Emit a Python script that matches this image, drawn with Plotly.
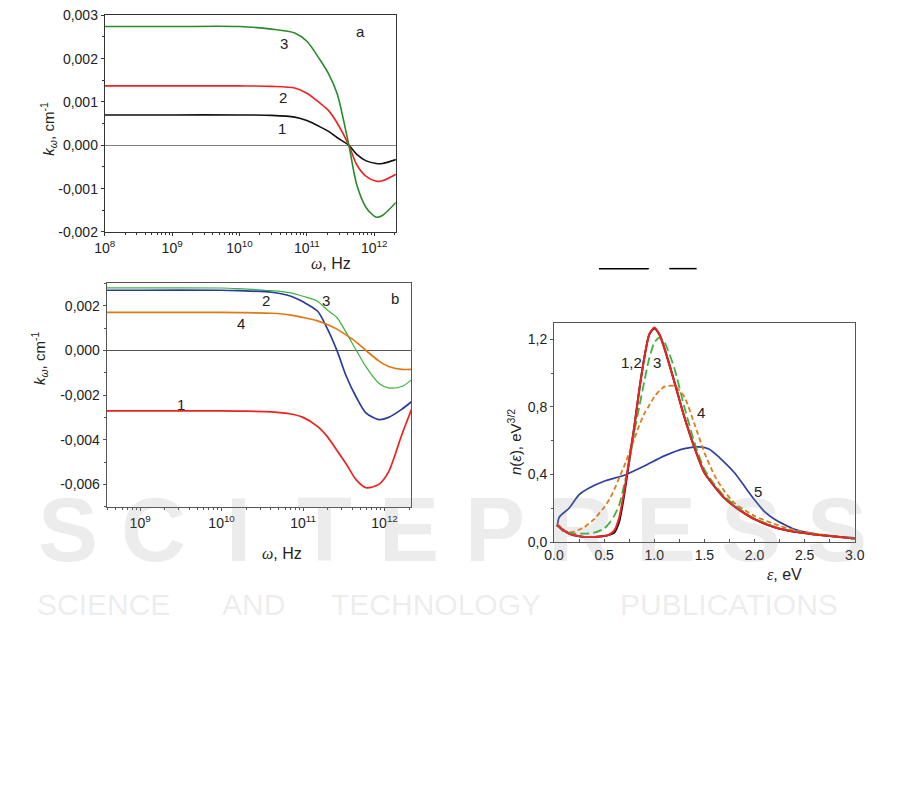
import plotly.graph_objects as go

W, H = 901, 793

# ---------------- Panel a data ----------------
omega_a = [1e8, 1e9, 1e10, 3.0e10, 6.6e10, 1.0e11, 1.6e11, 2.1e11, 2.8e11,
           4.2e11, 5.5e11, 7.6e11, 1.07e12, 1.32e12, 2.1e12]
k_a1 = [0.00070, 0.00070, 0.00070, 0.00069, 0.00065, 0.00057, 0.00042, 0.00032,
        0.00018, 0.0, -0.00021, -0.00036, -0.00042, -0.00042, -0.00033]
k_a2 = [0.00137, 0.00137, 0.00137, 0.00136, 0.00132, 0.00120, 0.00096, 0.00080,
        0.00052, 0.0, -0.00045, -0.00072, -0.00083, -0.00082, -0.00067]
k_a3 = [0.00274, 0.00274, 0.00274, 0.00268, 0.00259, 0.00240, 0.00195, 0.00165,
        0.00120, 0.0, -0.00091, -0.00144, -0.00166, -0.00162, -0.00132]
a_ytick_vals = [-0.002, -0.001, 0.0, 0.001, 0.002, 0.003]
a_ytick_text = ["-0,002", "-0,001", "0,000", "0,001", "0,002", "0,003"]
a_xtick_vals = [1e8, 1e9, 1e10, 1e11, 1e12]
a_xtick_text = ["10<sup>8</sup>", "10<sup>9</sup>", "10<sup>10</sup>",
                "10<sup>11</sup>", "10<sup>12</sup>"]

# ---------------- Panel b data ----------------
omega_b = [3.9e8, 1e9, 1e10, 1.6e10, 4.1e10, 7.1e10, 1.0e11, 1.5e11, 1.95e11,
           2.6e11, 3.4e11, 4.5e11, 5.9e11, 8.5e11, 1.12e12, 1.62e12, 2.14e12]
k_b1 = [-0.00271, -0.00271, -0.00271, -0.00272, -0.00275, -0.00285, -0.00300,
        -0.00340, -0.00383, -0.00447, -0.00510, -0.00580, -0.00615, -0.00600,
        -0.00544, -0.00380, -0.00265]
k_b2 = [0.00269, 0.00269, 0.00269, 0.00267, 0.00260, 0.00242, 0.00217, 0.00176,
        0.00103, 0.0, -0.00117, -0.00210, -0.00280, -0.00310, -0.00300,
        -0.00264, -0.00230]
k_b3 = [0.00280, 0.00280, 0.00279, 0.00276, 0.00267, 0.00257, 0.00242, 0.00220,
        0.00183, 0.00147, 0.00078, 0.0, -0.00073, -0.00147, -0.00168,
        -0.00162, -0.00132]
k_b4 = [0.00170, 0.00170, 0.00170, 0.00169, 0.00166, 0.00158, 0.00147, 0.00132,
        0.00117, 0.00095, 0.00068, 0.00037, 0.0, -0.00047, -0.00072,
        -0.00085, -0.00085]
b_ytick_vals = [-0.006, -0.004, -0.002, 0.0, 0.002]
b_ytick_text = ["-0,006", "-0,004", "-0,002", "0,000", "0,002"]
b_xtick_vals = [1e9, 1e10, 1e11, 1e12]
b_xtick_text = ["10<sup>9</sup>", "10<sup>10</sup>", "10<sup>11</sup>", "10<sup>12</sup>"]

# ---------------- Panel c data ----------------
eps = [0.03, 0.1, 0.15, 0.2, 0.3, 0.4, 0.5, 0.55, 0.6, 0.65, 0.7, 0.75, 0.8,
       0.85, 0.9, 0.95, 1.0, 1.05, 1.1, 1.2, 1.3, 1.4, 1.5, 1.6, 1.7, 1.8,
       1.9, 2.0, 2.2, 2.4, 2.6, 2.8, 3.0]
n_c1 = [0.10, 0.067, 0.05, 0.04, 0.03, 0.03, 0.035, 0.042, 0.055, 0.12, 0.28,
        0.48, 0.68, 0.90, 1.09, 1.23, 1.265, 1.23, 1.15, 0.95, 0.74, 0.56, 0.41,
        0.33, 0.26, 0.21, 0.17, 0.135, 0.087, 0.06, 0.045, 0.032, 0.02]
n_c2 = [0.10, 0.067, 0.05, 0.04, 0.03, 0.03, 0.035, 0.044, 0.067, 0.145, 0.30,
        0.49, 0.68, 0.90, 1.09, 1.23, 1.27, 1.23, 1.15, 0.95, 0.74, 0.56, 0.41,
        0.33, 0.26, 0.21, 0.17, 0.135, 0.087, 0.06, 0.045, 0.032, 0.02]
n_c3 = [0.10, 0.06, 0.055, 0.05, 0.05, 0.055, 0.08, 0.11, 0.155, 0.22, 0.34,
        0.47, 0.65, 0.80, 0.95, 1.09, 1.18, 1.21, 1.185, 1.03, 0.80, 0.59, 0.43,
        0.34, 0.27, 0.22, 0.175, 0.14, 0.09, 0.062, 0.046, 0.033, 0.02]
n_c4 = [0.11, 0.07, 0.058, 0.062, 0.087, 0.135, 0.206, 0.25, 0.31, 0.38, 0.45,
        0.53, 0.61, 0.69, 0.76, 0.81, 0.86, 0.895, 0.92, 0.925, 0.86, 0.70, 0.53,
        0.395, 0.30, 0.23, 0.19, 0.154, 0.106, 0.07, 0.05, 0.035, 0.02]
eps5 = [0.03, 0.05, 0.08, 0.15, 0.25, 0.35, 0.5, 0.7, 0.9, 1.1, 1.3, 1.45,
        1.55, 1.65, 1.8, 1.9, 2.0, 2.1, 2.2, 2.4, 2.6, 2.8, 3.0]
n_c5 = [0.09, 0.145, 0.165, 0.20, 0.28, 0.32, 0.36, 0.395, 0.45, 0.51, 0.553,
        0.563, 0.55, 0.50, 0.41, 0.33, 0.25, 0.18, 0.135, 0.075, 0.048, 0.033, 0.025]
c_ytick_vals = [0.0, 0.4, 0.8, 1.2]
c_ytick_text = ["0,0", "0,4", "0,8", "1,2"]
c_xtick_vals = [0.0, 0.5, 1.0, 1.5, 2.0, 2.5, 3.0]
c_xtick_text = ["0.0", "0.5", "1.0", "1.5", "2.0", "2.5", "3.0"]


def px(x):
    return x / W


def py(y):
    return 1 - y / H


def log_minor(lo, hi):
    vals = []
    for d in range(lo, hi + 1):
        for m in range(2, 10):
            vals.append(m * 10 ** d)
    return vals


FONT = "Liberation Sans, Arial, sans-serif"

fig = go.Figure()

# Panel a traces
for vals, col in [(k_a1, "#111111"), (k_a2, "#ee2222"), (k_a3, "#2a8a2a")]:
    fig.add_trace(go.Scatter(x=omega_a, y=vals, mode="lines", xaxis="x", yaxis="y",
                             line=dict(color=col, width=1.6, shape="spline", smoothing=0.8),
                             showlegend=False, hoverinfo="skip"))

# Panel b traces
for vals, col, w in [(k_b3, "#3cb43c", 1.2), (k_b2, "#2b3a9f", 1.7),
                     (k_b4, "#e07a10", 1.7), (k_b1, "#ee2020", 1.7)]:
    fig.add_trace(go.Scatter(x=omega_b, y=vals, mode="lines", xaxis="x2", yaxis="y2",
                             line=dict(color=col, width=w, shape="spline", smoothing=0.8),
                             showlegend=False, hoverinfo="skip"))

# Panel c traces
fig.add_trace(go.Scatter(x=eps, y=n_c1, mode="lines", xaxis="x3", yaxis="y3",
                         line=dict(color="#111111", width=2.0, shape="spline", smoothing=0.6),
                         showlegend=False, hoverinfo="skip"))
fig.add_trace(go.Scatter(x=eps5, y=n_c5, mode="lines", xaxis="x3", yaxis="y3",
                         line=dict(color="#2f3fa0", width=1.7, shape="spline", smoothing=0.6),
                         showlegend=False, hoverinfo="skip"))
fig.add_trace(go.Scatter(x=eps, y=n_c4, mode="lines", xaxis="x3", yaxis="y3",
                         line=dict(color="#e07b1a", width=1.8, dash="5px,3px", shape="spline", smoothing=0.6),
                         showlegend=False, hoverinfo="skip"))
fig.add_trace(go.Scatter(x=eps, y=n_c3, mode="lines", xaxis="x3", yaxis="y3",
                         line=dict(color="#3cb43c", width=1.8, dash="9px,4px", shape="spline", smoothing=0.6),
                         showlegend=False, hoverinfo="skip"))
fig.add_trace(go.Scatter(x=eps, y=n_c2, mode="lines", xaxis="x3", yaxis="y3",
                         line=dict(color="#ee2020", width=2.0, shape="spline", smoothing=0.6),
                         showlegend=False, hoverinfo="skip"))

TF = dict(family=FONT, size=14, color="#222222")
axcommon = dict(showgrid=False, showline=True, mirror=True, linewidth=1,
                ticks="outside", ticklen=3, tickwidth=1, tickmode="array",
                ticklabeloverflow="allow")

fig.update_layout(
    width=W, height=H,
    margin=dict(l=0, r=0, t=0, b=0),
    paper_bgcolor="white", plot_bgcolor="white",
    showlegend=False,
    xaxis=dict(axcommon, type="log", range=[8, 12.32], domain=[px(96), px(394)],
               anchor="y", tickvals=a_xtick_vals, ticktext=a_xtick_text,
               linecolor="#333333", tickcolor="#333333", tickfont=TF,
               zeroline=False,
               minor=dict(tickvals=log_minor(8, 12), ticks="outside", ticklen=2,
                          tickcolor="#333333")),
    yaxis=dict(axcommon, range=[-0.00201, 0.00301], domain=[py(229), py(7)],
               anchor="x", tickvals=a_ytick_vals, ticktext=a_ytick_text,
               linecolor="#333333", tickcolor="#333333", tickfont=TF,
               zeroline=True, zerolinecolor="#808080", zerolinewidth=1,
               minor=dict(dtick=0.0005, tick0=0, ticks="outside", ticklen=2,
                          tickcolor="#333333")),
    xaxis2=dict(axcommon, type="log", range=[8.59, 12.33], domain=[px(98), px(410)],
                anchor="y2", tickvals=b_xtick_vals, ticktext=b_xtick_text,
                linecolor="#555555", tickcolor="#555555",
                tickfont=TF, zeroline=False,
                minor=dict(tickvals=log_minor(8, 12), ticks="outside", ticklen=2,
                           tickcolor="#555555")),
    yaxis2=dict(axcommon, range=[-0.007, 0.003], domain=[py(509), py(281)],
                anchor="x2", tickvals=b_ytick_vals, ticktext=b_ytick_text,
                linecolor="#555555", tickcolor="#555555",
                tickfont=TF,
                zeroline=True, zerolinecolor="#555555", zerolinewidth=1,
                minor=dict(dtick=0.001, tick0=0, ticks="outside", ticklen=2,
                           tickcolor="#555555")),
    xaxis3=dict(axcommon, range=[0, 3.001], domain=[px(556), px(864)], anchor="y3",
                tickvals=c_xtick_vals, ticktext=c_xtick_text,
                linecolor="#555555", tickcolor="#555555", ticks="inside",
                tickfont=TF, zeroline=False,
                minor=dict(dtick=0.25, tick0=0, ticks="inside", ticklen=3,
                           tickcolor="#555555")),
    yaxis3=dict(axcommon, range=[0, 1.3], domain=[py(545), py(321)], anchor="x3",
                tickvals=c_ytick_vals, ticktext=c_ytick_text,
                linecolor="#555555", tickcolor="#555555",
                tickfont=TF, zeroline=False,
                minor=dict(dtick=0.2, tick0=0, ticks="outside", ticklen=2,
                           tickcolor="#555555")),
)

ann = []


def label(x, y, text, size=15, angle=0, color="#222222"):
    ann.append(dict(x=px(x), y=py(y), xref="paper", yref="paper", text=text,
                    showarrow=False, textangle=angle,
                    font=dict(family=FONT, size=size, color=color),
                    xanchor="center", yanchor="middle"))


# Watermark (faint publisher mark across the page)
wm = "rgba(140,140,140,0.17)"
letters = "SCITEPRESS"
for i, ch in enumerate(letters):
    label(58 + i * 87.5, 533, "<b>" + ch + "</b>", size=90, color=wm)
for word, xc in [("SCIENCE", 95), ("AND", 248), ("TECHNOLOGY", 435),
                 ("PUBLICATIONS", 735)]:
    label(xc, 609, word, size=30, color=wm)

# Panel a labels
label(280, 36, "3")
label(279, 91, "2")
label(277, 123, "1")
label(358, 24, "a")
label(38, 123, "<i>k</i><sub><i>ω</i></sub>, cm<sup>-1</sup>", size=15, angle=-90)
label(328, 261, "<span style='font-family:Liberation Serif'><i>ω</i></span>, Hz", size=16)

# Panel b labels
label(261, 299, "2")
label(323, 299, "3")
label(236, 322, "4")
label(174, 405, "1")
label(393, 296, "b")
label(29, 357, "<i>k</i><sub><i>ω</i></sub>, cm<sup>-1</sup>", size=15, angle=-90)
label(277, 557, "<span style='font-family:Liberation Serif'><i>ω</i></span>, Hz", size=16)

# Panel c labels
label(635, 362, "1,2")
label(661, 362, "3")
label(706, 413, "4")
label(765, 493, "5")
label(515, 443, "<i>n</i>(<i>ε</i>), eV<sup>3/2</sup>", size=15, angle=-90)
label(792, 578, "<span style='font-family:Liberation Serif'><i>ε</i></span>, eV", size=16)

fig.update_layout(annotations=ann)

# fraction bars from the cropped equation above panel c
fig.update_layout(shapes=[
    dict(type="line", xref="paper", yref="paper", x0=px(602), x1=px(653),
         y0=py(266), y1=py(266), line=dict(color="black", width=1.5)),
    dict(type="line", xref="paper", yref="paper", x0=px(674), x1=px(702),
         y0=py(266), y1=py(266), line=dict(color="black", width=1.5)),
])

fig.write_html("out.html", config={"displayModeBar": False},
               post_script="document.body.style.margin='0';")
